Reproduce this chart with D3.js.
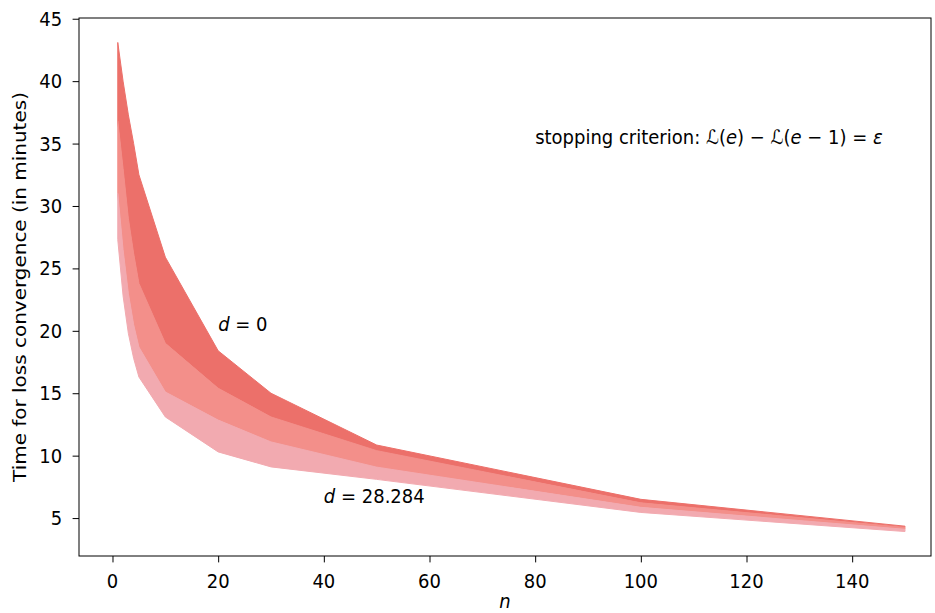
<!DOCTYPE html>
<html>
<head>
<meta charset="utf-8">
<script src="https://cdn.jsdelivr.net/npm/d3@7"></script>
<style>
  body { margin: 0; background: #fff; }
  svg { display: block; font-family: "DejaVu Sans", sans-serif; }
</style>
</head>
<body>
<svg id="chart" width="935" height="613"></svg>
<script>
// Number of clients n
const nValues = [1, 2, 3, 4, 5, 10, 20, 30, 50, 100, 150];

// Convergence time (minutes), one curve per distance d, from d = 0 (top) to d = 28.284 (bottom)
const timeD0     = [43.1, 40.0, 37.3, 35.0, 32.5, 25.9, 18.4, 15.0, 10.85, 6.5, 4.35];
const timeDMid1  = [36.8, 33.0, 29.0, 26.2, 23.8, 19.0, 15.4, 13.1, 10.4, 6.22, 4.25];
const timeDMid2  = [31.0, 26.5, 23.0, 20.5, 18.7, 15.1, 12.85, 11.1, 9.08, 5.86, 4.1];
const timeD28    = [27.3, 22.8, 19.8, 17.8, 16.3, 13.1, 10.3, 9.1, 8.1, 5.45, 3.92];

const curves = [timeD0, timeDMid1, timeDMid2, timeD28];
const bandColors = ["#ec706a", "#f38f8a", "#f2aab0"];

const xTicks = [0, 20, 40, 60, 80, 100, 120, 140];
const yTicks = [5, 10, 15, 20, 25, 30, 35, 40, 45];

// Axis limits
const xDomain = [-6.34, 154.92];

const frame = { left: 79, right: 931, top: 18, bottom: 556 };
const FONT = 18;      // horizontal font size
const STRETCH = 1.11; // glyphs are slightly taller than wide

const svg = d3.select("#chart");

const allY = curves.flat();
const yMin = d3.min(allY), yMax = d3.max(allY);
const yPad = 0.05 * (yMax - yMin);

const x = d3.scaleLinear().domain(xDomain).range([frame.left, frame.right]);
const y = d3.scaleLinear().domain([yMin - yPad, yMax + yPad]).range([frame.bottom, frame.top]);

// Filled bands between consecutive curves
const plot = svg.append("g");
for (let i = 0; i < curves.length - 1; i++) {
  const upper = curves[i], lower = curves[i + 1];
  const rows = nValues.map((n, k) => ({ n, hi: upper[k], lo: lower[k] }));
  const area = d3.area()
    .x(d => x(d.n))
    .y0(d => y(d.lo))
    .y1(d => y(d.hi));
  plot.append("path")
    .datum(rows)
    .attr("d", area)
    .attr("fill", bandColors[i])
    .attr("stroke", bandColors[i])
    .attr("stroke-width", 1);
}

// Text helper: places a text at (px, py) with a vertical stretch
function label(px, py, anchor, rotate) {
  const g = svg.append("g")
    .attr("transform", `translate(${px},${py})` + (rotate ? ` rotate(${rotate})` : ""));
  return g.append("text")
    .attr("transform", rotate ? `scale(${STRETCH},1)` : `scale(1,${STRETCH})`)
    .attr("text-anchor", anchor)
    .style("font-size", FONT + "px");
}

// Axes
const TICK = 6.4, PAD = 10.5;
const xAxis = d3.axisBottom(x).tickValues(xTicks).tickSizeOuter(0).tickSize(TICK).tickFormat(() => "");
const yAxis = d3.axisLeft(y).tickValues(yTicks).tickSizeOuter(0).tickSize(TICK).tickFormat(() => "");

const gx = svg.append("g").attr("transform", `translate(0,${frame.bottom})`).call(xAxis);
const gy = svg.append("g").attr("transform", `translate(${frame.left},0)`).call(yAxis);
[gx, gy].forEach(g => {
  g.select(".domain").remove();
  g.selectAll("line").attr("stroke", "#000").attr("stroke-width", 1);
});

xTicks.forEach(t => {
  label(x(t), frame.bottom + TICK + 6.4, "middle").attr("dy", "0.95em").text(t);
});
yTicks.forEach(t => {
  label(frame.left - TICK - PAD, y(t), "end").attr("dy", "0.35em").text(t);
});

// Frame
svg.append("rect")
  .attr("x", frame.left).attr("y", frame.top)
  .attr("width", frame.right - frame.left).attr("height", frame.bottom - frame.top)
  .attr("fill", "none").attr("stroke", "#000").attr("stroke-width", 1);

// Axis titles
label((frame.left + frame.right) / 2, 608, "middle").style("font-style", "italic").text("n");
label(26, (frame.top + frame.bottom) / 2, "middle", -90).text("Time for loss convergence (in minutes)");

// Annotations
const mathText = (sel, parts) => {
  parts.forEach(([t, italic]) => {
    sel.append("tspan").style("font-style", italic ? "italic" : "normal").text(t);
  });
};

const crit = label(x(80), y(35), "start");
mathText(crit, [
  ["stopping criterion: ", false], ["ℒ", false], ["(", false], ["e", true], [") − ", false],
  ["ℒ", false], ["(", false], ["e", true], [" − 1) = ", false], ["ε", true]
]);

mathText(label(x(20), y(20), "start"), [["d", true], [" = 0", false]]);
mathText(label(x(40), y(6.2), "start"), [["d", true], [" = 28.284", false]]);
</script>
</body>
</html>
